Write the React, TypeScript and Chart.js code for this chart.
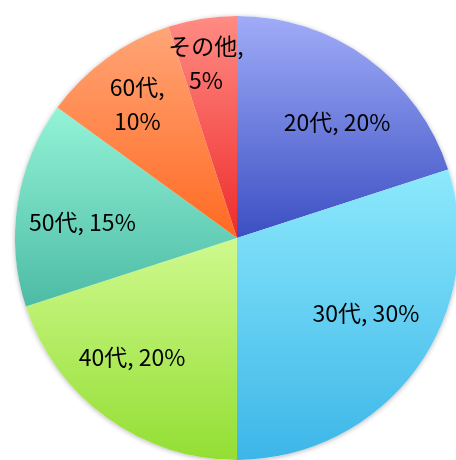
import React, { useEffect, useRef } from "react";
import { Chart, registerables } from "chart.js";

Chart.register(...registerables);

const categories = ["20代", "30代", "40代", "50代", "60代", "その他"];
const shares = [20, 30, 20, 15, 10, 5];
const gradientTops = ["#a0acf8", "#8de9fc", "#cff98e", "#93f3d7", "#ffa577", "#ff8c84"];
const gradientBottoms = ["#3b4fc2", "#3cb6e8", "#93de33", "#4dbba5", "#ff6a22", "#ee2b2b"];

const FONT = "'Noto Sans CJK JP', 'Noto Sans', sans-serif";

const gradientPlugin = {
  id: "sliceGradient",
  beforeDatasetsDraw(chart: any) {
    const ctx = chart.ctx;
    const meta = chart.getDatasetMeta(0);
    const first = meta.data[0];
    if (!first) return;
    const { x, y, outerRadius } = first.getProps(["x", "y", "outerRadius"], true);
    ctx.save();
    ctx.shadowColor = "rgba(0,0,0,0.28)";
    ctx.shadowBlur = 5;
    ctx.shadowOffsetX = 0;
    ctx.shadowOffsetY = 1;
    ctx.fillStyle = "#ffffff";
    ctx.beginPath();
    ctx.arc(x, y, outerRadius, 0, Math.PI * 2);
    ctx.fill();
    ctx.restore();

    meta.data.forEach((arc: any, i: number) => {
      const p = arc.getProps(["x", "y", "startAngle", "endAngle", "outerRadius"], true);
      const ys = [p.y, p.y + p.outerRadius * Math.sin(p.startAngle), p.y + p.outerRadius * Math.sin(p.endAngle)];
      [-Math.PI / 2, Math.PI / 2, (3 * Math.PI) / 2].forEach((a) => {
        if (a >= p.startAngle && a <= p.endAngle) ys.push(p.y + p.outerRadius * Math.sin(a));
      });
      const g = ctx.createLinearGradient(0, Math.min(...ys), 0, Math.max(...ys));
      g.addColorStop(0, gradientTops[i]);
      g.addColorStop(1, gradientBottoms[i]);
      arc.options.backgroundColor = g;
    });
  },
};

// label placement relative to each slice: fraction of radius, angle shift in degrees
const labelFactors = [0.69, 0.672, 0.715, 0.7, 0.75, 0.8];
const labelShifts = [4.8, -5.8, 5.4, -3.1, -0.8, -1.1];

const labelPlugin = {
  id: "sliceLabels",
  afterDatasetsDraw(chart: any) {
    const ctx = chart.ctx;
    const meta = chart.getDatasetMeta(0);
    ctx.save();
    ctx.font = `23px ${FONT}`;
    ctx.fillStyle = "#000000";
    ctx.textAlign = "center";
    ctx.textBaseline = "middle";
    meta.data.forEach((arc: any, i: number) => {
      const p = arc.getProps(["x", "y", "startAngle", "endAngle", "outerRadius"], true);
      const mid = (p.startAngle + p.endAngle) / 2 + (labelShifts[i] * Math.PI) / 180;
      const r = p.outerRadius * labelFactors[i];
      const cx = p.x + r * Math.cos(mid);
      const cy = p.y + r * Math.sin(mid);
      const name = categories[i];
      const pct = `${shares[i]}%`;
      if (shares[i] <= 10) {
        ctx.fillText(`${name},`, cx, cy - 17);
        ctx.fillText(pct, cx, cy + 17);
      } else {
        ctx.fillText(`${name}, ${pct}`, cx, cy);
      }
    });
    ctx.restore();
  },
};

export default function App() {
  const ref = useRef<HTMLCanvasElement>(null);
  useEffect(() => {
    if (!ref.current) return;
    const chart = new Chart(ref.current, {
      type: "pie",
      data: {
        labels: categories,
        datasets: [
          {
            data: shares,
            backgroundColor: gradientBottoms,
            borderWidth: 0,
          },
        ],
      },
      options: {
        responsive: false,
        animation: false,
        layout: { padding: { left: 15, right: 11, top: 16, bottom: 10 } },
        plugins: {
          legend: { display: false },
          tooltip: { enabled: false },
        },
      },
      plugins: [gradientPlugin, labelPlugin],
    });
    return () => chart.destroy();
  }, []);
  return (
    <div style={{ position: "absolute", left: 0, top: 0, width: 456, height: 460, overflow: "hidden", background: "#fff" }}>
      <canvas ref={ref} width={470} height={470} style={{ width: 470, height: 470, display: "block" }} />
    </div>
  );
}
